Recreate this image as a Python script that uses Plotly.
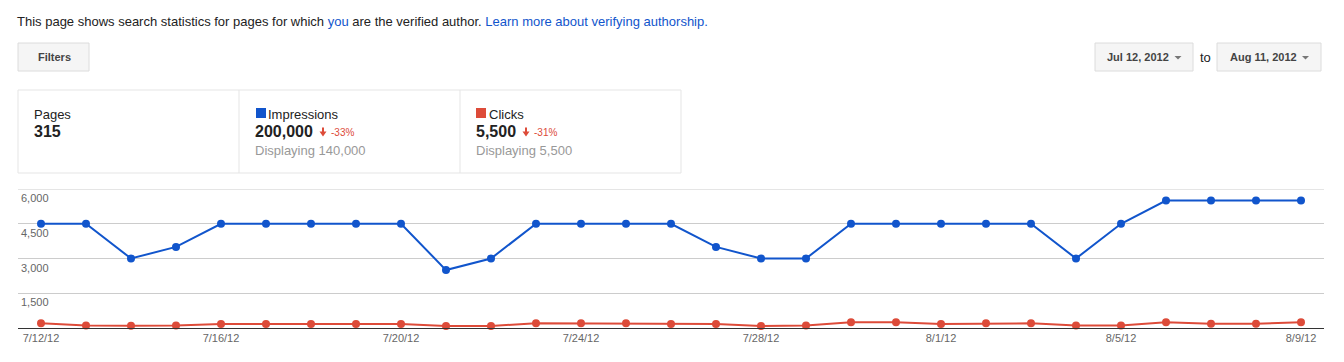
import plotly.graph_objects as go

# ---------------- data ----------------
dates = ["7/12/12", "7/13/12", "7/14/12", "7/15/12", "7/16/12", "7/17/12", "7/18/12",
         "7/19/12", "7/20/12", "7/21/12", "7/22/12", "7/23/12", "7/24/12", "7/25/12",
         "7/26/12", "7/27/12", "7/28/12", "7/29/12", "7/30/12", "7/31/12", "8/1/12",
         "8/2/12", "8/3/12", "8/4/12", "8/5/12", "8/6/12", "8/7/12", "8/8/12", "8/9/12"]
impressions = [4500, 4500, 3000, 3500, 4500, 4500, 4500, 4500, 4500, 2500, 3000, 4500,
               4500, 4500, 4500, 3500, 3000, 3000, 4500, 4500, 4500, 4500, 4500, 3000,
               4500, 5500, 5500, 5500, 5500]
clicks = [200, 110, 100, 110, 175, 175, 175, 175, 175, 90, 90, 200, 200, 200, 175, 175,
          90, 110, 245, 245, 175, 200, 200, 110, 110, 245, 185, 185, 245]
x_ticks = ["7/12/12", "7/16/12", "7/20/12", "7/24/12", "7/28/12", "8/1/12", "8/5/12", "8/9/12"]
y_ticks = [0, 1500, 3000, 4500, 6000]

BLUE = "#1155cc"
RED = "#dd4b39"
FONT = "Arial, Liberation Sans, sans-serif"

# ---------------- geometry helpers (pixel -> paper) ----------------
W, H = 1344, 362
L, R, T, B = 18, 1324, 189, 328


def px(x):
    return (x - L) / (R - L)


def py(y):
    return (B - y) / (B - T)


annotations = []
shapes = []


def text(x, y, s, size=13, color="#222222", anchor="left"):
    annotations.append(dict(xref="paper", yref="paper", x=px(x), y=py(y), text=s,
                            showarrow=False, xanchor=anchor, yanchor="middle",
                            borderpad=0, borderwidth=0,
                            font=dict(family=FONT, size=size, color=color)))


def rect(x0, y0, x1, y1, fill="rgba(0,0,0,0)", line="#dcdcdc", width=1):
    shapes.append(dict(type="rect", xref="paper", yref="paper", layer="above",
                       x0=px(x0), x1=px(x1), y0=py(y1), y1=py(y0),
                       fillcolor=fill, line=dict(color=line, width=width)))


def path(points, fill):
    d = "M " + " L ".join(f"{px(a)},{py(b)}" for a, b in points) + " Z"
    shapes.append(dict(type="path", xref="paper", yref="paper", layer="above",
                       path=d, fillcolor=fill, line=dict(width=0)))


def down_arrow(cx, top):
    path([(cx - 1, top), (cx + 1, top), (cx + 1, top + 4), (cx + 3.5, top + 4),
          (cx, top + 9), (cx - 3.5, top + 4), (cx - 1, top + 4)], RED)


def tri(cx, cy):
    path([(cx - 3.5, cy - 1.5), (cx + 3.5, cy - 1.5), (cx, cy + 2)], "#777777")


# ---------------- header ----------------
text(17, 21, "This page shows search statistics for pages for which "
     f"<span style='color:{BLUE}'>you</span> are the verified author. "
     f"<span style='color:{BLUE}'>Learn more about verifying authorship.</span>", 13)

rect(18, 43, 89, 71, fill="#f5f5f5", line="#dcdcdc")
text(54, 57, "<b>Filters</b>", 11, "#444444", anchor="center")

rect(1095, 43, 1193, 71, fill="#f5f5f5", line="#dcdcdc")
text(1107, 57, "<b>Jul 12, 2012</b>", 11, "#444444")
tri(1178, 57.5)
text(1199.5, 57, "to", 13, "#222222")
rect(1217, 43, 1321, 71, fill="#f5f5f5", line="#dcdcdc")
text(1229.5, 57, "<b>Aug 11, 2012</b>", 11, "#444444")
tri(1305.5, 57.5)

# ---------------- stat boxes ----------------
rect(18, 90, 681, 173, line="#e5e5e5")
for xd in (239, 460):
    shapes.append(dict(type="line", xref="paper", yref="paper", layer="above",
                       x0=px(xd), x1=px(xd), y0=py(90), y1=py(173),
                       line=dict(color="#e5e5e5", width=1)))

text(33.5, 114, "Pages", 13)
text(33.5, 131, "<b>315</b>", 16)

rect(256, 108, 266, 118, fill=BLUE, line=BLUE, width=0)
text(268, 114, "Impressions", 13)
text(255, 131, "<b>200,000</b>", 16)
down_arrow(323, 127.5)
text(330.5, 132, "-33%", 10, RED)
text(255, 150, "Displaying 140,000", 13, "#999999")

rect(476, 108, 486, 118, fill=RED, line=RED, width=0)
text(488.5, 114, "Clicks", 13)
text(475.5, 131, "<b>5,500</b>", 16)
down_arrow(526, 127.5)
text(534, 132, "-31%", 10, RED)
text(475.5, 150, "Displaying 5,500", 13, "#999999")

# ---------------- top gridline (at the top edge of the plot) ----------------
shapes.append(dict(type="line", xref="paper", yref="y", layer="below",
                   x0=0, x1=1, y0=y_ticks[-1], y1=y_ticks[-1],
                   line=dict(color="#cccccc", width=1)))

# ---------------- y tick labels (below gridlines) ----------------
for v in y_ticks[1:]:
    annotations.append(dict(xref="paper", yref="y", x=px(20), y=v, yshift=-9,
                            text=f"{v:,}", showarrow=False, xanchor="left",
                            yanchor="middle", borderpad=0,
                            font=dict(family=FONT, size=11, color="#666666")))

# ---------------- traces ----------------
fig = go.Figure()
fig.add_trace(go.Scatter(x=dates, y=impressions, mode="lines+markers", name="Impressions",
                         line=dict(color=BLUE, width=2), marker=dict(color=BLUE, size=8),
                         cliponaxis=False))
fig.add_trace(go.Scatter(x=dates, y=clicks, mode="lines+markers", name="Clicks",
                         line=dict(color=RED, width=2), marker=dict(color=RED, size=8),
                         cliponaxis=False))

fig.update_layout(
    width=W, height=H,
    margin=dict(l=L, r=W - R, t=T, b=H - B, pad=0),
    paper_bgcolor="white", plot_bgcolor="white",
    showlegend=False,
    font=dict(family=FONT, size=11, color="#666666"),
    xaxis=dict(type="category", categoryorder="array", categoryarray=dates,
               range=[-23 / 45, len(dates) - 1 + 23 / 45],
               tickvals=x_ticks, ticktext=x_ticks, ticks="", showgrid=False,
               showline=True, linecolor="#333333", linewidth=1, zeroline=False,
               tickfont=dict(family=FONT, size=11, color="#666666")),
    yaxis=dict(range=[0, 6000], tickvals=y_ticks, showticklabels=False, ticks="",
               showgrid=True, gridcolor="#cccccc", gridwidth=1, zeroline=False,
               showline=False),
    annotations=annotations,
    shapes=shapes,
)

fig.write_html("out.html")
